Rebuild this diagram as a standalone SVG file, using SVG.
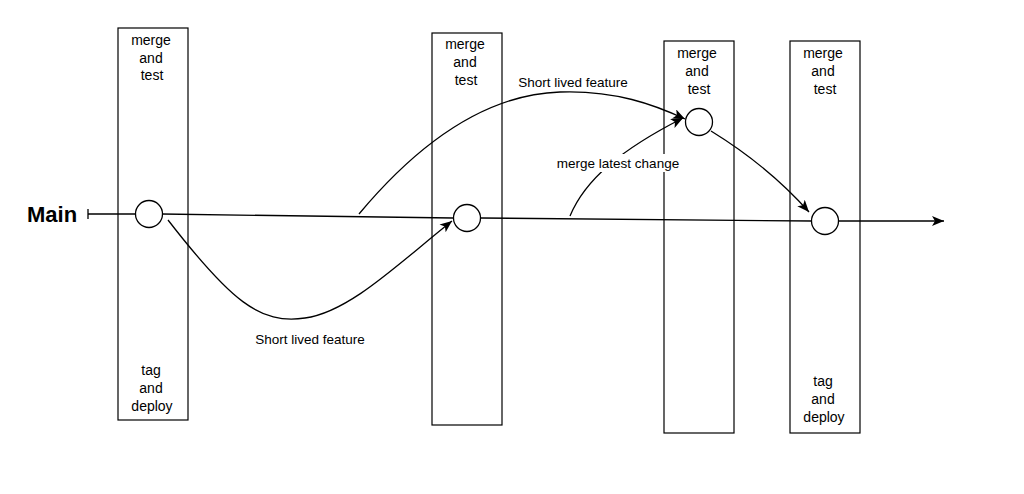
<svg xmlns="http://www.w3.org/2000/svg" width="1024" height="494" viewBox="0 0 1024 494">
<style>
.box{fill:#fff;stroke:#000;stroke-width:1.2}
.node{fill:#fff;stroke:#000;stroke-width:1.3}
.t{font-family:"Liberation Sans",Arial,sans-serif;font-size:14px;fill:#000;text-anchor:middle}
.l{font-family:"Liberation Sans",Arial,sans-serif;font-size:13.5px;fill:#000;text-anchor:middle}
.e{fill:none;stroke:#000;stroke-width:1.3}
</style>
<defs>
<marker id="arr" markerUnits="userSpaceOnUse" markerWidth="14" markerHeight="12" refX="12" refY="5" orient="auto">
<path d="M0,0 L12,5 L0,10 L3,5 Z" fill="#000"/>
</marker>
</defs>
<rect width="1024" height="494" fill="#fff"/>
<g id="stage1"><rect class="box" x="118" y="28" width="70" height="392"/>
<text class="t" x="151" y="45">merge</text><text class="t" x="151" y="63">and</text><text class="t" x="152" y="80">test</text>
<text class="t" x="151" y="375">tag</text><text class="t" x="151" y="393">and</text><text class="t" x="152" y="411">deploy</text></g>
<g id="stage2"><rect class="box" x="432" y="33" width="70" height="392"/>
<text class="t" x="465" y="49">merge</text><text class="t" x="465" y="67">and</text><text class="t" x="466" y="85">test</text></g>
<g id="stage3"><rect class="box" x="664" y="41" width="70" height="392"/>
<text class="t" x="697" y="58">merge</text><text class="t" x="697" y="76">and</text><text class="t" x="699" y="94">test</text></g>
<g id="stage4"><rect class="box" x="790" y="41" width="70" height="392"/>
<text class="t" x="823" y="58">merge</text><text class="t" x="823" y="76">and</text><text class="t" x="825" y="94">test</text>
<text class="t" x="823" y="386">tag</text><text class="t" x="823" y="404">and</text><text class="t" x="824" y="422">deploy</text></g>
<g id="main-label"><text x="27" y="222" font-family="'Liberation Sans',Arial,sans-serif" font-size="22" font-weight="bold" fill="#000">Main</text></g>
<g id="connectors">
<line class="e" x1="88" y1="209" x2="88" y2="219"/>
<line class="e" x1="88" y1="214" x2="136" y2="214"/>
<line class="e" x1="162" y1="214" x2="453" y2="218"/>
<line class="e" x1="481" y1="218" x2="812" y2="221"/>
<line class="e" x1="839" y1="221" x2="944" y2="221" marker-end="url(#arr)"/>
<path class="e" d="M168,220 C230,300 260,325 305,318 C350,312 400,262 452,221" marker-end="url(#arr)"/>
<path class="e" d="M359,214 C400,165 470,95 560,92 C615,90 655,105 685,119" marker-end="url(#arr)"/>
<path class="e" d="M711,131 C750,155 785,185 809,212" marker-end="url(#arr)"/>
<path class="e" d="M570,216 C585,180 620,150 683,118" marker-end="url(#arr)"/>
<rect x="555" y="154" width="127" height="18" fill="#fff"/>
<text class="l" x="618" y="168">merge latest change</text>
<text class="l" x="573" y="87">Short lived feature</text>
<text class="l" x="310" y="344">Short lived feature</text>
</g>
<g id="c1"><circle class="node" cx="149" cy="214" r="13.5"/></g>
<g id="c2"><circle class="node" cx="467" cy="218" r="13.5"/></g>
<g id="c3"><circle class="node" cx="699" cy="122" r="13.5"/></g>
<g id="c4"><circle class="node" cx="825" cy="221" r="13.5"/></g>
</svg>
